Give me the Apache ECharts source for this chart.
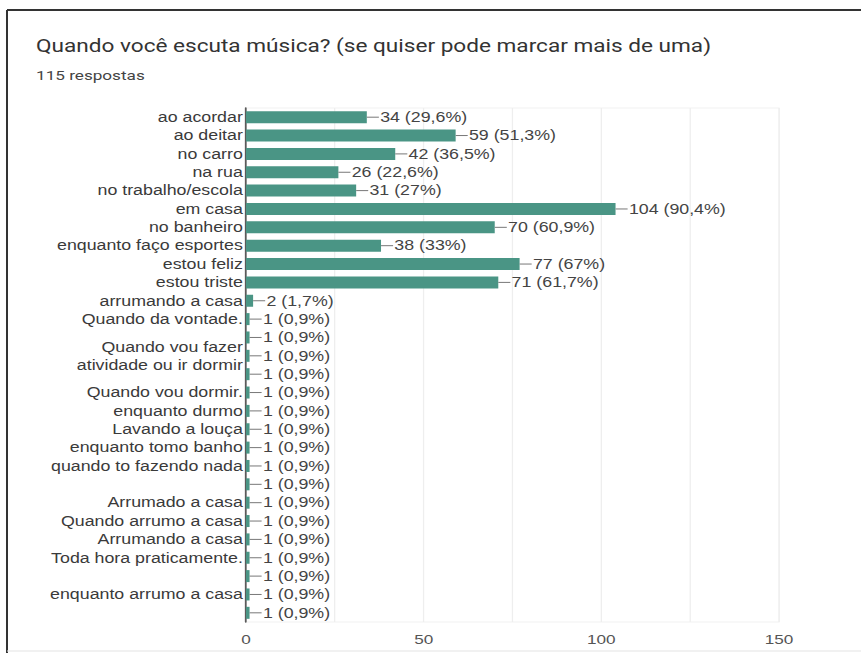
<!DOCTYPE html>
<html>
<head>
<meta charset="utf-8">
<script src="https://cdn.jsdelivr.net/npm/echarts@6/dist/echarts.min.js"></script>
<style>
  html, body { margin: 0; padding: 0; background: #fff; overflow: hidden; }
  /* the figure is drawn at a narrower width and widened horizontally */
  #chart { width: 678px; height: 653px; transform: scaleX(1.27); transform-origin: 0 0; }
</style>
</head>
<body>
<div id="chart"></div>
<script>
// Survey question and response count
const titleText = 'Quando você escuta música? (se quiser pode marcar mais de uma)';
const subtitleText = '115 respostas';
const totalResponses = 115;

// Answer options (empty strings are answers whose labels are not shown)
const categories = [
  'ao acordar',
  'ao deitar',
  'no carro',
  'na rua',
  'no trabalho/escola',
  'em casa',
  'no banheiro',
  'enquanto faço esportes',
  'estou feliz',
  'estou triste',
  'arrumando a casa',
  'Quando da vontade.',
  '',
  'Quando vou fazer\natividade ou ir dormir',
  '',
  'Quando vou dormir.',
  'enquanto durmo',
  'Lavando a louça',
  'enquanto tomo banho',
  'quando to fazendo nada',
  '',
  'Arrumado a casa',
  'Quando arrumo a casa',
  'Arrumando a casa',
  'Toda hora praticamente.',
  '',
  'enquanto arrumo a casa',
  ''
];

// Number of respondents per option
const counts = [34, 59, 42, 26, 31, 104, 70, 38, 77, 71, 2,
  1, 1, 1, 1, 1, 1, 1, 1, 1, 1, 1, 1, 1, 1, 1, 1, 1];

// Value axis ticks with labels
const tickLabels = [0, 50, 100, 150];

// horizontal widening applied to the chart element
const SX = 1.27;
const W = 861 / SX;

function pct(v) {
  const p = Math.round(v / totalResponses * 1000) / 10;
  return String(p).replace('.', ',');
}

const chart = echarts.init(document.getElementById('chart'), null, { renderer: 'svg', width: W, height: 653 });

chart.setOption({
  backgroundColor: '#ffffff',
  animation: false,
  textStyle: { fontFamily: 'Liberation Sans, Arial, sans-serif' },
  title: [
    {
      text: titleText,
      left: 36 / SX - 5, top: 32,
      textStyle: { fontFamily: 'Roboto, sans-serif', fontSize: 17.8, fontWeight: 'normal', color: '#333' }
    },
    {
      text: subtitleText,
      left: 36 / SX - 5, top: 64,
      textStyle: { fontFamily: 'Roboto, sans-serif', fontSize: 13.5, fontWeight: 'normal', color: '#444' }
    }
  ],
  grid: {
    left: 246 / SX, right: 82 / SX, top: 108, bottom: 31,
    show: true, borderColor: '#f2f2f2', borderWidth: 1
  },
  xAxis: {
    type: 'value',
    min: 0, max: 150, interval: 25,
    axisLine: { show: false },
    axisTick: { show: false },
    splitLine: { lineStyle: { color: '#eeeeee', width: 1 } },
    axisLabel: {
      color: '#555', fontSize: 13.5, margin: 10,
      formatter: v => tickLabels.indexOf(v) >= 0 ? String(v) : ''
    }
  },
  yAxis: {
    type: 'category',
    inverse: true,
    data: categories,
    axisLine: { show: true, lineStyle: { color: '#5a5a5a', width: 1.4 } },
    axisTick: { show: false },
    axisLabel: {
      color: '#3a3a3a', fontSize: 14, margin: 2.5, lineHeight: 18, interval: 0,
      fontFamily: 'Liberation Sans, Arial, sans-serif'
    }
  },
  series: [{
    type: 'bar',
    data: counts,
    barWidth: 12,
    itemStyle: { color: '#4a9585' },
    label: {
      show: true,
      position: 'right',
      distance: 0,
      formatter: p => '{ln|}{t|' + p.value + ' (' + pct(p.value) + '%)}',
      rich: {
        ln: { width: 9.5, height: 1, backgroundColor: '#777', verticalAlign: 'middle' },
        t: { fontSize: 14, color: '#444', verticalAlign: 'middle', lineHeight: 16,
             fontFamily: 'Liberation Sans, Arial, sans-serif', padding: [0, 0, 0, 1] }
      }
    }
  }],
  graphic: [
    // frame around the figure
    { type: 'line', shape: { x1: 7 / SX, y1: 10, x2: W, y2: 10 }, style: { stroke: '#333', lineWidth: 2 } },
    { type: 'line', shape: { x1: 7 / SX, y1: 10, x2: 7 / SX, y2: 653 }, style: { stroke: '#333', lineWidth: 2 / SX } },
    { type: 'line', shape: { x1: 7 / SX, y1: 651, x2: W, y2: 651 }, style: { stroke: '#e4e4e4', lineWidth: 1 } }
  ]
});
</script>
</body>
</html>
